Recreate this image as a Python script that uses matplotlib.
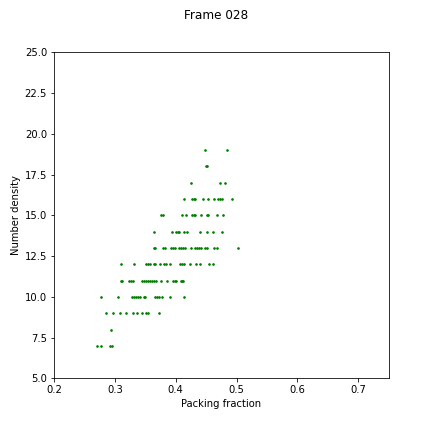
import matplotlib
matplotlib.use("Agg")
import matplotlib.pyplot as plt

# Number density rows (integer values) and the packing fractions seen on each row
density_levels = [7, 8, 9, 10, 11, 12, 13, 14, 15, 16, 17, 18, 19]

packing_by_density = {
    7: [0.271, 0.278, 0.292, 0.296],
    8: [0.294],
    9: [0.286, 0.297, 0.309, 0.319, 0.330, 0.337, 0.345, 0.351, 0.354, 0.373],
    10: [0.278, 0.305, 0.328, 0.331, 0.334, 0.338, 0.341, 0.348, 0.349,
         0.366, 0.369, 0.372, 0.377, 0.391, 0.414],
    11: [0.310, 0.312, 0.323, 0.327, 0.330, 0.345, 0.348, 0.351, 0.354, 0.358,
         0.361, 0.364, 0.368, 0.376, 0.386, 0.395, 0.399, 0.401, 0.409, 0.410, 0.412],
    12: [0.310, 0.331, 0.351, 0.354, 0.358, 0.364, 0.366, 0.374, 0.381, 0.384,
         0.390, 0.407, 0.410, 0.413, 0.423, 0.433, 0.440, 0.455, 0.461],
    13: [0.364, 0.366, 0.379, 0.382, 0.392, 0.395, 0.399, 0.405, 0.409, 0.412,
         0.415, 0.425, 0.432, 0.435, 0.438, 0.441, 0.448, 0.451, 0.463, 0.468, 0.502],
    14: [0.365, 0.394, 0.400, 0.404, 0.405, 0.414, 0.419, 0.440, 0.452, 0.462, 0.476],
    15: [0.375, 0.379, 0.411, 0.417, 0.427, 0.430, 0.432, 0.442, 0.452, 0.453,
         0.468, 0.478],
    16: [0.414, 0.427, 0.430, 0.432, 0.445, 0.453, 0.463, 0.470, 0.473, 0.476, 0.493],
    17: [0.425, 0.473, 0.481],
    18: [0.450, 0.452],
    19: [0.448, 0.485],
}

xs = []
ys = []
for d in density_levels:
    for p in packing_by_density[d]:
        xs.append(p)
        ys.append(d)

fig = plt.figure(figsize=(6, 6), dpi=72)
fig.subplots_adjust(left=0.125, right=0.9, bottom=0.124, top=0.879)
ax = fig.add_subplot(111)
ax.plot(xs, ys, linestyle="none", marker="o", markersize=1.6, color="green")
ax.set_xlim(0.2, 0.75)
ax.set_ylim(5.0, 25.0)
ax.set_xticks([0.2, 0.3, 0.4, 0.5, 0.6, 0.7])
ax.set_yticks([5.0, 7.5, 10.0, 12.5, 15.0, 17.5, 20.0, 22.5, 25.0])
ax.set_xlabel("Packing fraction")
ax.set_ylabel("Number density")
fig.suptitle("Frame 028")
fig.savefig("out.png", dpi=72)
plt.close(fig)
